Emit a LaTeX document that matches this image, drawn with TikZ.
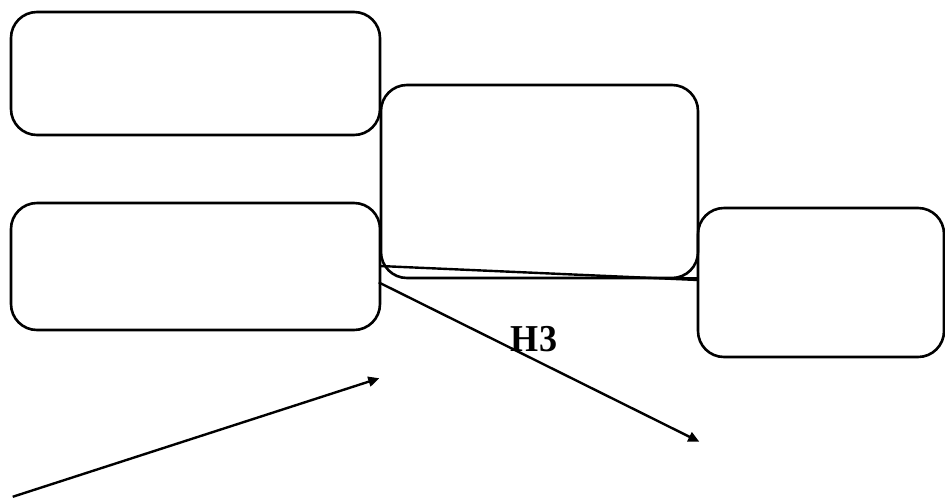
\documentclass[tikz,border=0pt]{standalone}
\usepackage{fontspec}
\setmainfont{Liberation Serif}
\usetikzlibrary{arrows.meta}
\begin{document}
\begin{tikzpicture}[x=1pt,y=-1pt,
  box/.style={draw,line width=2.6pt,rounded corners=26pt},
  conn/.style={line width=2.4pt},
  arr/.style={line width=2.4pt,-{Triangle[length=11pt,width=10pt]}}]
\useasboundingbox (0,0) rectangle (945,499);
\draw[box] (11,12) rectangle (380,135);
\draw[box] (11,203) rectangle (380,330);
\draw[box] (381,85) rectangle (698,278);
\draw[box] (698,208) rectangle (944,357);
\node[inner sep=0] (b) at (380,266) {};
\node[inner sep=0] (d) at (698,280) {};
\node[inner sep=0] (c) at (408,278) {};
\node[inner sep=0] (d2) at (698,278) {};
\draw[conn] (b) -- (d);
\draw[conn] (c) -- (d2);
\node[inner sep=0] (s1) at (378,282) {};
\node[inner sep=0] (e1) at (700,442) {};
\draw[arr] (s1) -- (e1);
\node[inner sep=0] (s2) at (12,497) {};
\node[inner sep=0] (e2) at (380,378) {};
\draw[arr] (s2) -- (e2);
\node[font=\bfseries\fontsize{38}{40}\selectfont,inner sep=0,xscale=0.95] (h3) at (534,339) {H3};
\end{tikzpicture}
\end{document}
